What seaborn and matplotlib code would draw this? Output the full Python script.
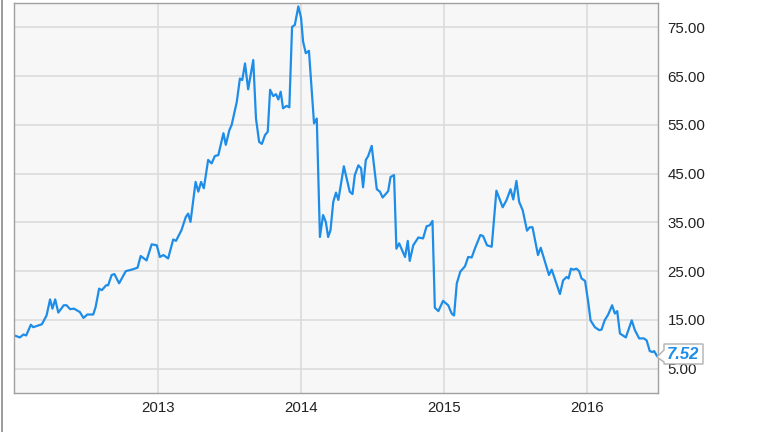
import matplotlib
matplotlib.use("Agg")
import matplotlib.pyplot as plt
from matplotlib.lines import Line2D
from matplotlib.patches import Polygon
import seaborn as sns
import pandas as pd

dates = [
    "2012-01-02", "2012-01-16", "2012-01-25", "2012-02-01", "2012-02-13", "2012-02-19",
    "2012-03-12", "2012-03-24", "2012-04-02", "2012-04-08", "2012-04-15", "2012-04-23",
    "2012-05-07", "2012-05-14", "2012-05-23", "2012-06-02", "2012-06-17", "2012-06-26",
    "2012-07-06", "2012-07-21", "2012-07-27", "2012-08-05", "2012-08-12", "2012-08-23",
    "2012-08-28", "2012-09-06", "2012-09-13", "2012-09-25", "2012-10-12", "2012-10-27",
    "2012-11-11", "2012-11-19", "2012-12-04", "2012-12-17", "2012-12-30", "2013-01-07",
    "2013-01-16", "2013-01-28", "2013-02-10", "2013-02-17", "2013-03-03", "2013-03-14",
    "2013-03-20", "2013-03-26", "2013-04-08", "2013-04-15", "2013-04-22", "2013-04-29",
    "2013-05-10", "2013-05-19", "2013-05-27", "2013-06-05", "2013-06-18", "2013-06-24",
    "2013-07-03", "2013-07-09", "2013-07-22", "2013-07-30", "2013-08-05", "2013-08-12",
    "2013-08-20", "2013-09-02", "2013-09-09", "2013-09-17", "2013-09-24", "2013-10-02",
    "2013-10-09", "2013-10-15", "2013-10-23", "2013-10-30", "2013-11-05", "2013-11-11",
    "2013-11-17", "2013-11-26", "2013-12-03", "2013-12-10", "2013-12-17", "2013-12-26",
    "2014-01-02", "2014-01-07", "2014-01-14", "2014-01-22", "2014-02-04", "2014-02-11",
    "2014-02-19", "2014-02-27", "2014-03-06", "2014-03-12", "2014-03-18", "2014-03-25",
    "2014-04-01", "2014-04-07", "2014-04-21", "2014-05-06", "2014-05-13", "2014-05-19",
    "2014-05-28", "2014-06-04", "2014-06-09", "2014-06-16", "2014-06-22", "2014-07-01",
    "2014-07-14", "2014-07-22", "2014-07-29", "2014-08-12", "2014-08-18", "2014-08-27",
    "2014-09-02", "2014-09-09", "2014-09-24", "2014-10-01", "2014-10-06", "2014-10-15",
    "2014-10-28", "2014-11-09", "2014-11-18", "2014-11-26", "2014-12-03", "2014-12-09",
    "2014-12-18", "2014-12-30", "2015-01-12", "2015-01-21", "2015-01-27", "2015-02-03",
    "2015-02-12", "2015-02-24", "2015-03-04", "2015-03-13", "2015-03-21", "2015-04-04",
    "2015-04-11", "2015-04-21", "2015-05-03", "2015-05-15", "2015-05-31", "2015-06-10",
    "2015-06-20", "2015-06-27", "2015-07-05", "2015-07-12", "2015-07-21", "2015-08-01",
    "2015-08-08", "2015-08-15", "2015-08-29", "2015-09-05", "2015-09-16", "2015-09-26",
    "2015-10-03", "2015-10-24", "2015-11-01", "2015-11-10", "2015-11-15", "2015-11-21",
    "2015-11-27", "2015-12-05", "2015-12-12", "2015-12-18", "2015-12-27", "2016-01-04",
    "2016-01-10", "2016-01-21", "2016-02-01", "2016-02-07", "2016-02-15", "2016-02-24",
    "2016-03-05", "2016-03-12", "2016-03-18", "2016-03-25", "2016-04-09", "2016-04-24",
    "2016-05-02", "2016-05-13", "2016-05-25", "2016-06-01", "2016-06-09", "2016-06-16",
    "2016-06-20", "2016-06-28",
]
prices = [
    11.8, 11.4, 12.0, 11.8, 14.0, 13.5,
    14.1, 15.9, 19.2, 17.3, 19.2, 16.5,
    18.0, 18.0, 17.2, 17.3, 16.6, 15.4,
    16.1, 16.1, 17.6, 21.4, 21.1, 22.1,
    22.1, 24.2, 24.4, 22.5, 25.0, 25.3,
    25.7, 28.1, 27.2, 30.5, 30.3, 27.9,
    28.3, 27.6, 31.5, 31.2, 33.4, 36.1,
    36.8, 35.1, 43.3, 41.3, 43.3, 42.0,
    47.8, 47.1, 48.6, 48.8, 53.3, 50.9,
    53.9, 55.0, 59.7, 64.5, 64.2, 67.6,
    62.3, 68.3, 56.3, 51.5, 51.1, 52.9,
    53.6, 62.2, 60.9, 61.3, 60.2, 61.8,
    58.4, 58.9, 58.6, 75.1, 75.5, 79.3,
    76.9, 72.1, 69.7, 70.2, 55.3, 56.3,
    32.0, 36.5, 35.1, 32.0, 33.4, 39.2,
    41.1, 39.6, 46.5, 41.3, 40.8, 44.7,
    46.7, 46.1, 42.2, 47.8, 48.6, 50.7,
    41.8, 41.3, 40.1, 41.4, 44.3, 44.7,
    29.6, 30.7, 27.9, 31.2, 27.1, 30.3,
    31.9, 31.7, 34.2, 34.4, 35.3, 17.5,
    16.8, 18.9, 18.0, 16.3, 15.9, 22.5,
    24.9, 26.0, 27.9, 27.8, 29.6, 32.4,
    32.2, 30.3, 30.0, 41.5, 38.1, 39.6,
    41.8, 39.7, 43.5, 39.2, 37.5, 33.3,
    34.0, 34.0, 28.3, 29.8, 26.9, 24.2,
    25.3, 20.3, 23.1, 23.8, 23.5, 25.5,
    25.3, 25.5, 25.0, 23.5, 23.0, 18.7,
    14.9, 13.5, 12.9, 13.0, 14.9, 16.1,
    18.0, 16.3, 16.8, 12.2, 11.4, 14.9,
    12.9, 11.2, 11.2, 10.8, 8.6, 8.4,
    8.6, 7.52,
]
y_ticks = [5, 15, 25, 35, 45, 55, 65, 75]
y_tick_labels = ["5.00", "15.00", "25.00", "35.00", "45.00", "55.00", "65.00", "75.00"]
x_ticks = ["2013-01-01", "2014-01-01", "2015-01-01", "2016-01-01"]
x_tick_labels = ["2013", "2014", "2015", "2016"]
last_label = "7.52"

W, H = 764, 432

sns.set_style("white")
plt.rcParams["font.family"] = ["Liberation Sans", "DejaVu Sans"]

df = pd.DataFrame({"date": pd.to_datetime(dates), "price": prices})

fig = plt.figure(figsize=(W / 100, H / 100), dpi=100)
ax = fig.add_axes([14 / W, 1 - 393 / H, (658 - 14) / W, (393 - 3) / H])
ax.set_facecolor("#f7f7f7")

sns.lineplot(data=df, x="date", y="price", ax=ax, color="#1e8de8", linewidth=1.6)

ax.set_xlim(pd.Timestamp("2012-01-01"), pd.Timestamp("2016-06-30"))
ax.set_ylim(0, 80)
ax.set_xticks(pd.to_datetime(x_ticks))
ax.set_xticklabels(x_tick_labels)
ax.set_yticks(y_ticks)
ax.set_yticklabels(y_tick_labels)
ax.yaxis.tick_right()
ax.tick_params(axis="both", length=0, labelsize=10.8, colors="#222222")
ax.tick_params(axis="y", pad=7)
ax.tick_params(axis="x", pad=6)
ax.set_xlabel("")
ax.set_ylabel("")
ax.grid(True, color="#dadada", linewidth=1.1)
ax.set_axisbelow(True)
for s in ax.spines.values():
    s.set_color("#a0a0a0")
    s.set_linewidth(1.0)

# last-value callout box with a left-pointing notch
box_px = [(657, 357), (664, 350), (664, 344), (703, 344), (703, 364), (664, 364), (664, 362)]
callout = Polygon([(x / W, 1 - y / H) for x, y in box_px], closed=True,
                  transform=fig.transFigure, facecolor="white", edgecolor="#b0b0b0",
                  linewidth=1.0, zorder=20)
fig.add_artist(callout)
fig.text(683.5 / W, 1 - 354.5 / H, last_label, ha="center", va="center",
         fontsize=12, fontweight="bold", fontstyle="italic", color="#1e8de8", zorder=21)

fig.add_artist(Line2D([1.5 / W, 1.5 / W], [0, 1], color="#8a8a8a", lw=1.2,
                      transform=fig.transFigure))

fig.savefig("out.png", dpi=100)
